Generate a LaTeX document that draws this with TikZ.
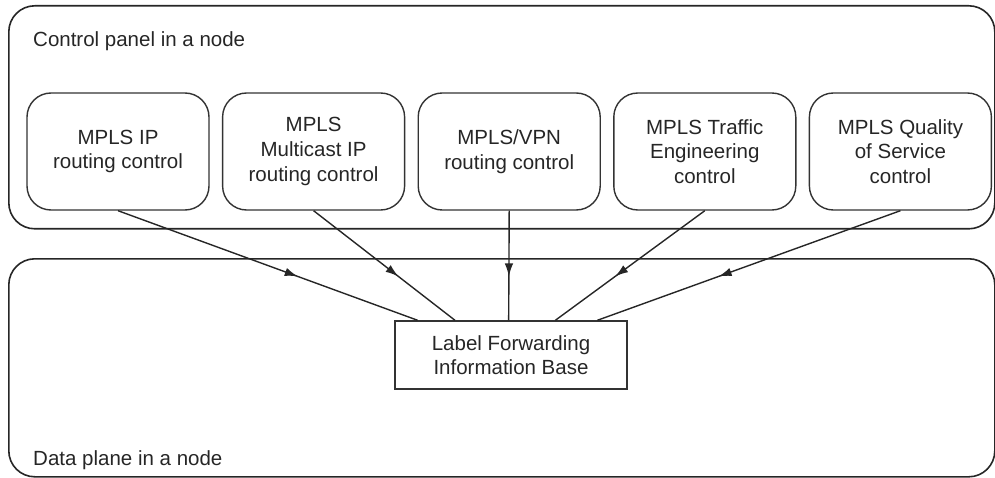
\documentclass[tikz,border=0pt]{standalone}
\usepackage{fontspec}
\setmainfont{Liberation Sans}
\usetikzlibrary{positioning,calc,arrows.meta,decorations.markings}

\begin{document}
\begin{tikzpicture}[x=1pt,y=-1pt,>={Latex[length=13pt,width=8.5pt]},
        font=\fontsize{20.5}{24.6}\selectfont,text=black!85,
        node distance=12.2pt,
        panel/.style={draw=black!85,line width=1.6pt,rounded corners=26pt,
                      minimum width=986pt,anchor=north west,inner sep=0pt},
        ctrlbox/.style={draw=black!80,line width=1.4pt,rounded corners=24pt,
                        minimum width=182pt,minimum height=117pt,align=center,inner sep=0pt},
        lfibbox/.style={draw=black!80,line width=1.4pt,minimum width=232pt,
                        minimum height=68pt,align=center,inner sep=0pt},
        flow/.style={draw=black!85,line width=1.4pt,postaction={decorate},
                     decoration={markings,mark=at position 0.6 with {\arrow{>}}}}]

  \useasboundingbox (0,0) rectangle (995,478);

  % the two planes
  \node[panel,minimum height=223pt] (ctrl) at (8,5) {};
  \node[panel,minimum height=218pt] (data) at (8,258) {};
  \node[anchor=base west,inner sep=0pt] (ctrllabel) at (33,47) {Control panel in a node};
  \node[anchor=base west,inner sep=0pt] (datalabel) at (33,465) {Data plane in a node};

  % control components
  \node[ctrlbox] (ip) at (118,151.5) {MPLS IP\\routing control};
  \node[ctrlbox] (mcast) [right=of ip] {MPLS\\Multicast IP\\routing control};
  \node[ctrlbox] (vpn) [right=of mcast] {MPLS/VPN\\routing control};
  \node[ctrlbox] (te) [right=of vpn] {MPLS Traffic\\Engineering\\control};
  \node[ctrlbox] (qos) [right=of te] {MPLS Quality\\of Service\\control};

  % forwarding base
  \node[lfibbox] (lfib) at (511,355) {Label Forwarding\\Information Base};

  \foreach \src/\pos in {ip/0.1,mcast/0.26,vpn/0.49,te/0.69,qos/0.87}
    \draw[flow] (\src.south) -- ($(lfib.north west)!\pos!(lfib.north east)$);

\end{tikzpicture}
\end{document}
